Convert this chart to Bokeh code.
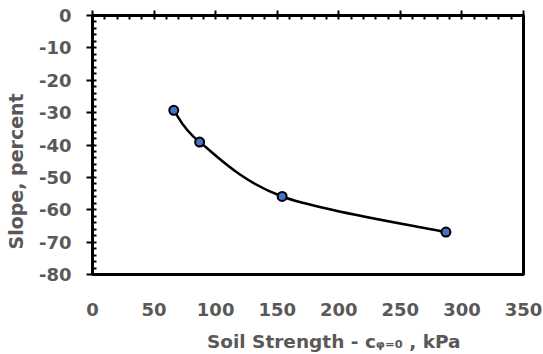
import numpy as np
from bokeh.plotting import figure
from bokeh.models import LinearAxis, SingleIntervalTicker, PrintfTickFormatter
from bokeh.embed import file_html
from bokeh.resources import INLINE

# Data
strength_kpa = [66, 87, 154, 287]
slope_pct = [-29.3, -39.1, -55.9, -66.9]

x_ticks_interval = 50
y_ticks_interval = 10

x_title = "\u00a0" * 8 + "Soil Strength - c\u1d69\u208c\u2080 , kPa"
y_title = "Slope, percent" + "\u00a0" * 8

GRAY = "#595959"
FONT = "DejaVu Sans"

p = figure(width=543, height=354, x_range=(0, 350), y_range=(-80, 0),
           output_backend="svg", toolbar_location=None,
           min_border_left=92, min_border_right=20,
           min_border_top=15, min_border_bottom=80,
           x_axis_location="below", y_axis_location="left")
p.grid.visible = False
p.outline_line_color = "black"
p.outline_line_width = 3
p.background_fill_color = "white"
p.border_fill_color = "white"

# bottom axis: labels + title
xa = p.xaxis[0]
xa.ticker = SingleIntervalTicker(interval=x_ticks_interval, num_minor_ticks=0)
xa.axis_line_color = None
xa.major_tick_line_color = None
xa.minor_tick_line_color = None
xa.major_label_standoff = 22
xa.major_label_text_font = FONT
xa.major_label_text_font_style = "bold"
xa.major_label_text_font_size = "18px"
xa.major_label_text_color = GRAY
xa.axis_label = x_title
xa.axis_label_standoff = 12
xa.axis_label_text_font = FONT
xa.axis_label_text_font_style = "bold"
xa.axis_label_text_font_size = "18.5px"
xa.axis_label_text_color = GRAY

# left axis
ya = p.yaxis[0]
ya.ticker = SingleIntervalTicker(interval=y_ticks_interval, num_minor_ticks=5)
ya.formatter = PrintfTickFormatter(format="%d")
ya.axis_line_color = "black"
ya.axis_line_width = 3
ya.major_tick_line_color = "black"
ya.major_tick_line_width = 2
ya.major_tick_out = 6
ya.major_tick_in = 0
ya.minor_tick_line_color = "black"
ya.minor_tick_line_width = 2
ya.minor_tick_in = 4
ya.minor_tick_out = 0
ya.major_label_standoff = 15
ya.major_label_text_font = FONT
ya.major_label_text_font_style = "bold"
ya.major_label_text_font_size = "18px"
ya.major_label_text_color = GRAY
ya.axis_label = y_title
ya.axis_label_standoff = 9
ya.axis_label_text_font = FONT
ya.axis_label_text_font_style = "bold"
ya.axis_label_text_font_size = "19px"
ya.axis_label_text_color = GRAY

# top axis: ticks only
ta = LinearAxis(ticker=SingleIntervalTicker(interval=x_ticks_interval, num_minor_ticks=5))
ta.axis_line_color = "black"
ta.axis_line_width = 2
ta.major_tick_line_color = "black"
ta.major_tick_line_width = 2
ta.major_tick_out = 5
ta.major_tick_in = 0
ta.minor_tick_line_color = "black"
ta.minor_tick_line_width = 2
ta.minor_tick_in = 4
ta.minor_tick_out = 0
ta.major_label_text_font_size = "0px"
ta.major_label_text_color = None
ta.major_label_standoff = 0
p.add_layout(ta, "above")

# smoothed curve (Catmull-Rom -> cubic Bezier) through the data points
P = np.column_stack([strength_kpa, slope_pct]).astype(float)
n = len(P)
x0, y0, x1, y1, cx0, cy0, cx1, cy1 = ([] for _ in range(8))
for i in range(n - 1):
    pm = P[i - 1] if i > 0 else P[i]
    pp = P[i + 2] if i + 2 < n else P[i + 1]
    c1 = P[i] + (P[i + 1] - pm) / 6.0
    c2 = P[i + 1] - (pp - P[i]) / 6.0
    x0.append(P[i][0]); y0.append(P[i][1])
    x1.append(P[i + 1][0]); y1.append(P[i + 1][1])
    cx0.append(c1[0]); cy0.append(c1[1])
    cx1.append(c2[0]); cy1.append(c2[1])
p.bezier(x0=x0, y0=y0, x1=x1, y1=y1, cx0=cx0, cy0=cy0, cx1=cx1, cy1=cy1,
         line_color="black", line_width=2.5)

p.scatter(strength_kpa, slope_pct, size=9, fill_color="#4472C4",
          line_color="black", line_width=2)

open("out.html", "w").write(file_html(p, INLINE))
